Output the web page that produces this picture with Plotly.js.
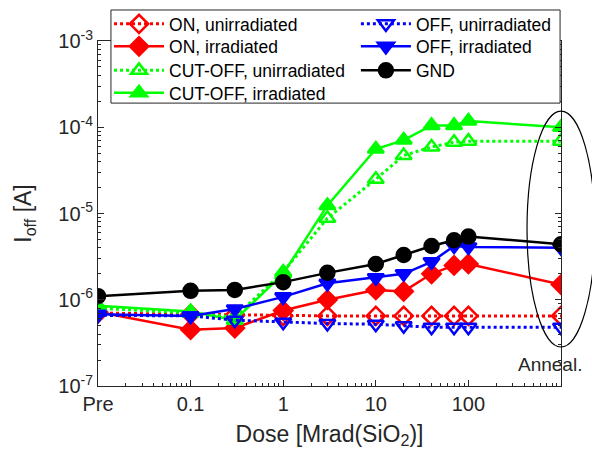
<!DOCTYPE html>
<html>
<head>
<meta charset="utf-8">
<script src="https://cdn.plot.ly/plotly-3.0.1.min.js"></script>
<style>html,body{margin:0;padding:0;background:#fff}#chart{width:592px;height:462px}</style>
</head>
<body>
<div id="chart"></div>
<script>
// Dose values: "Pre" drawn at 0.01, "Anneal." drawn at 1000
const dose = [0.01, 0.1, 0.3, 1, 3, 10, 20, 40, 70, 100, 1000];
const xTickVals = [0.01, 0.1, 1, 10, 100];
const xTickText = ['Pre', '0.1', '1', '10', '100'];
const yTickVals = [1e-7, 1e-6, 1e-5, 1e-4, 1e-3];
const yTickText = ['10<sup>-7</sup>', '10<sup>-6</sup>', '10<sup>-5</sup>', '10<sup>-4</sup>', '10<sup>-3</sup>'];

const onUnirr  = [7.0e-7, 6.8e-7, 6.6e-7, 6.5e-7, 6.5e-7, 6.5e-7, 6.5e-7, 6.5e-7, 6.5e-7, 6.5e-7, 6.5e-7];
const onIrr    = [7.2e-7, 4.5e-7, 4.7e-7, 7.5e-7, 1.0e-6, 1.3e-6, 1.25e-6, 2.0e-6, 2.5e-6, 2.6e-6, 1.5e-6];
const cutUnirr = [8.0e-7, 7.0e-7, 6.3e-7, 2.1e-6, 8.8e-6, 2.5e-5, 4.7e-5, 5.9e-5, 6.7e-5, 6.9e-5, 6.9e-5];
const cutIrr   = [8.5e-7, 7.3e-7, 5.8e-7, 2.0e-6, 1.24e-5, 5.6e-5, 7.1e-5, 1.05e-4, 1.05e-4, 1.18e-4, 1.0e-4];
const offUnirr = [6.6e-7, 6.5e-7, 5.8e-7, 5.5e-7, 5.3e-7, 5.2e-7, 5.0e-7, 4.8e-7, 4.8e-7, 4.8e-7, 4.8e-7];
const offIrr   = [6.8e-7, 6.5e-7, 7.8e-7, 1.08e-6, 1.55e-6, 1.8e-6, 2.0e-6, 2.75e-6, 4.2e-6, 4.1e-6, 4.0e-6];
const gnd      = [1.1e-6, 1.27e-6, 1.3e-6, 1.6e-6, 2.05e-6, 2.6e-6, 3.3e-6, 4.2e-6, 4.9e-6, 5.4e-6, 4.4e-6];

const FONT = 'Arial, "Liberation Sans", sans-serif';

function tr(name, y, color, dash, symbol, legendId) {
  return {
    x: dose, y: y, name: name, type: 'scatter', mode: 'lines+markers',
    line: {color: color, width: dash === 'solid' ? 2.5 : 3, dash: dash},
    marker: {symbol: symbol, size: 14, color: color, line: {color: color, width: 2.5}},
    legend: legendId
  };
}

const data = [
  tr('ON, unirradiated', onUnirr, '#ff0000', 'dot', 'diamond-open', 'legend'),
  tr('ON, irradiated', onIrr, '#ff0000', 'solid', 'diamond', 'legend2'),
  tr('CUT-OFF, unirradiated', cutUnirr, '#00ff00', 'dot', 'triangle-up-open', 'legend3'),
  tr('CUT-OFF, irradiated', cutIrr, '#00ff00', 'solid', 'triangle-up', 'legend4'),
  tr('OFF, unirradiated', offUnirr, '#0000ff', 'dot', 'triangle-down-open', 'legend5'),
  tr('OFF, irradiated', offIrr, '#0000ff', 'solid', 'triangle-down', 'legend6'),
  tr('GND', gnd, '#000000', 'solid', 'circle', 'legend7')
];

function leg(x, y) {
  return {
    orientation: 'v', xanchor: 'left', yanchor: 'middle', x: x, y: y,
    borderwidth: 0, bgcolor: 'rgba(0,0,0,0)',
    font: {family: FONT, size: 17.5, color: '#000'},
    itemwidth: 50, traceorder: 'normal', tracegroupgap: 0
  };
}

const layout = {
  width: 592, height: 462,
  margin: {l: 98, r: 31, t: 41, b: 76, autoexpand: false},
  paper_bgcolor: '#fff', plot_bgcolor: '#fff',
  font: {family: FONT, color: '#262626', size: 20},
  showlegend: true,
  legend:  leg(0.0238, 1.0493),
  legend2: leg(0.0238, 0.9841),
  legend3: leg(0.0238, 0.9145),
  legend4: leg(0.0238, 0.8493),
  legend5: leg(0.557, 1.0493),
  legend6: leg(0.557, 0.9841),
  legend7: leg(0.557, 0.9145),
  xaxis: {
    type: 'log', range: [-2, 3],
    tickmode: 'array', tickvals: xTickVals, ticktext: xTickText,
    ticks: 'inside', ticklen: 6, tickcolor: '#262626',
    showline: true, linecolor: '#262626', linewidth: 1, mirror: 'ticks',
    showgrid: false, zeroline: false,
    minor: {ticks: 'inside', ticklen: 3, tickcolor: '#262626', dtick: 'D1', showgrid: false},
    tickfont: {family: FONT, size: 20, color: '#262626'},
    title: {text: 'Dose [Mrad(SiO<sub>2</sub>)]', font: {family: FONT, size: 23, color: '#262626'}, standoff: 11}
  },
  yaxis: {
    type: 'log', range: [-7, -3],
    tickmode: 'array', tickvals: yTickVals, ticktext: yTickText,
    ticks: 'inside', ticklen: 6, tickcolor: '#262626',
    showline: true, linecolor: '#262626', linewidth: 1, mirror: 'ticks',
    showgrid: false, zeroline: false,
    minor: {ticks: 'inside', ticklen: 3, tickcolor: '#262626', dtick: 'D1', showgrid: false},
    tickfont: {family: FONT, size: 20, color: '#262626'},
    title: {text: 'I<sub>off</sub> [A]', font: {family: FONT, size: 23, color: '#262626'}, standoff: 20}
  },
  shapes: [
    {
      type: 'circle', xref: 'paper', yref: 'paper',
      x0: 0.9266, x1: 1.0734, y0: 0.113, y1: 0.797,
      line: {color: '#000', width: 1.2}
    },
    {
      type: 'rect', xref: 'paper', yref: 'paper', layer: 'above',
      x0: 0.028, x1: 0.998, y0: 0.820, y1: 1.0899,
      fillcolor: 'rgba(255,255,255,1)',
      line: {color: '#262626', width: 1}
    }
  ],
  annotations: [{
    xref: 'paper', yref: 'paper', x: 0.976, y: 0.061,
    text: 'Anneal.', showarrow: false, xanchor: 'center', yanchor: 'middle',
    font: {family: FONT, size: 19, color: '#262626'}
  }]
};

Plotly.newPlot('chart', data, layout, {displayModeBar: false, staticPlot: true});
</script>
</body>
</html>
